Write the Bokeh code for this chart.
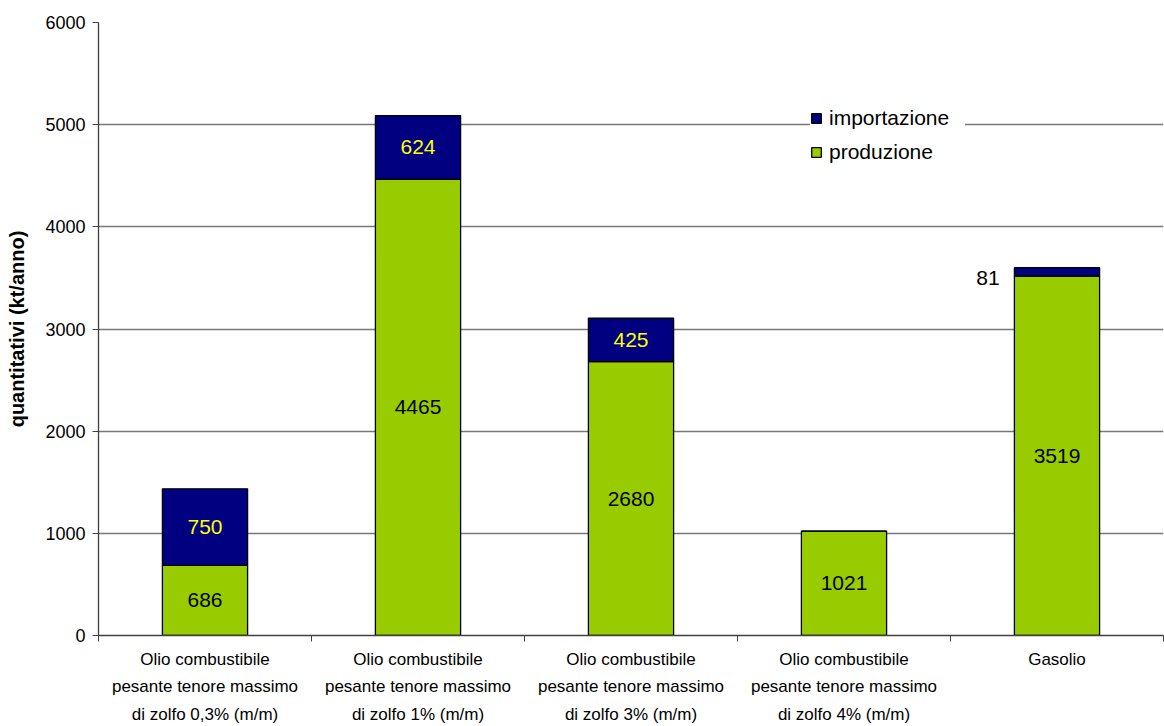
import numpy as np
from bokeh.plotting import figure
from bokeh.models import ColumnDataSource, FixedTicker, Range1d, Legend, LegendItem
from bokeh.core.properties import value
from bokeh.embed import file_html
from bokeh.resources import INLINE

categories = [
    "Olio combustibile\npesante tenore massimo\ndi zolfo 0,3% (m/m)",
    "Olio combustibile\npesante tenore massimo\ndi zolfo 1% (m/m)",
    "Olio combustibile\npesante tenore massimo\ndi zolfo 3% (m/m)",
    "Olio combustibile\npesante tenore massimo\ndi zolfo 4% (m/m)",
    "Gasolio",
]
produzione = [686, 4465, 2680, 1021, 3519]
importazione = [750, 624, 425, 0, 81]
y_ticks = [0, 1000, 2000, 3000, 4000, 5000, 6000]

FONT = "Liberation Sans"
GREEN = "#99CC00"
BLUE = "#000080"

n = len(categories)
xs = np.arange(n) + 0.5
prod = np.array(produzione, dtype=float)
imp = np.array(importazione, dtype=float)

p = figure(width=1164, height=726, output_backend="svg", toolbar_location=None,
           x_range=Range1d(0, n), y_range=Range1d(0, 6000))
p.min_border_left = 98
p.min_border_right = 1
p.min_border_top = 22
p.min_border_bottom = 91
p.outline_line_color = None
p.background_fill_color = "white"

src = ColumnDataSource(dict(
    x=xs, prod=prod, imp=imp, top=prod + imp,
    prod_mid=prod / 2,
    prod_lbl=[str(v) for v in produzione],
))

r_prod = p.vbar(x="x", width=0.4, bottom=0, top="prod", source=src,
                fill_color=GREEN, line_color="black", line_width=1.3)
r_imp = p.vbar(x="x", width=0.4, bottom="prod", top="top", source=src,
               fill_color=BLUE, line_color="black", line_width=1.3)

# production labels
p.text(x="x", y="prod_mid", text="prod_lbl", source=src, text_align="center",
       text_baseline="middle", text_font=value(FONT), text_font_size="21px",
       text_color="black")

# import labels: inside (yellow) for large segments, outside (black) for small ones
big = [i for i in range(n) if importazione[i] >= 200]
small = [i for i in range(n) if 0 < importazione[i] < 200]
src_big = ColumnDataSource(dict(
    x=xs[big], y=(prod + imp / 2)[big], t=[str(importazione[i]) for i in big]))
p.text(x="x", y="y", text="t", source=src_big, text_align="center",
       text_baseline="middle", text_font=value(FONT), text_font_size="21px",
       text_color="#FFFF00")
src_small = ColumnDataSource(dict(
    x=xs[small], y=(prod + imp / 2)[small], t=[str(importazione[i]) for i in small]))
p.text(x="x", y="y", text="t", source=src_small, text_align="center",
       text_baseline="middle", text_font=value(FONT), text_font_size="21px",
       text_color="black", x_offset=-69, y_offset=6)

# axes
xax = p.xaxis[0]
xax.ticker = FixedTicker(ticks=list(xs), minor_ticks=list(range(n + 1)))
xax.major_label_overrides = {float(x): c for x, c in zip(xs, categories)}
xax.major_tick_line_color = None
xax.minor_tick_line_color = "#404040"
xax.minor_tick_out = 6
xax.minor_tick_in = 0
xax.axis_line_color = "#404040"
xax.axis_line_width = 1.3
xax.major_label_text_font = FONT
xax.major_label_text_font_size = "17px"
xax.major_label_text_color = "black"
xax.major_label_standoff = 8
xax.major_label_text_line_height = 1.45

yax = p.yaxis[0]
yax.ticker = FixedTicker(ticks=y_ticks)
yax.major_tick_out = 6
yax.major_tick_in = 0
yax.minor_tick_line_color = None
yax.axis_line_color = "#404040"
yax.axis_line_width = 1.3
yax.major_tick_line_color = "#404040"
yax.major_label_text_font = FONT
yax.major_label_text_font_size = "18px"
yax.major_label_text_color = "black"
yax.major_label_standoff = 7
yax.axis_label = "quantitativi (kt/anno)"
yax.axis_label_text_font = FONT
yax.axis_label_text_font_style = "bold"
yax.axis_label_text_font_size = "20px"
yax.axis_label_text_color = "black"
yax.axis_label_standoff = 14

p.xgrid.grid_line_color = None
p.ygrid.grid_line_color = "#777777"
p.ygrid.grid_line_width = 1.3

legend = Legend(items=[LegendItem(label="importazione", renderers=[r_imp]),
                       LegendItem(label="produzione", renderers=[r_prod])],
                location=(712, 471))
legend.label_text_font = FONT
legend.label_text_font_size = "21px"
legend.label_text_color = "black"
legend.glyph_width = 12
legend.glyph_height = 12
legend.label_standoff = 7
legend.label_height = 20
legend.label_width = 136
legend.spacing = 10
legend.padding = 9
legend.margin = 0
legend.border_line_color = None
legend.background_fill_color = "white"
legend.background_fill_alpha = 1.0
p.add_layout(legend)

open("out.html", "w").write(file_html(p, INLINE))
